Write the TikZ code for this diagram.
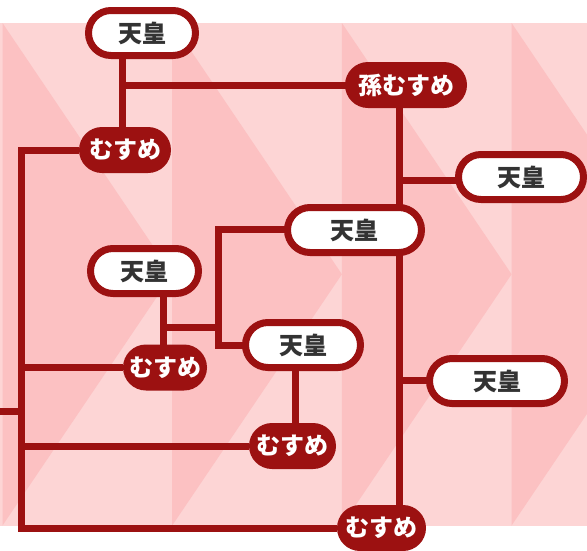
\documentclass[tikz,border=0pt]{standalone}
\usepackage{fontspec}
\newfontfamily\jp{Noto Sans CJK JP}
\pgfdeclarelayer{bglayer}
\pgfdeclarelayer{linelayer}
\pgfsetlayers{bglayer,linelayer,main}
\definecolor{dred}{RGB}{156,17,17}
\definecolor{pinkA}{RGB}{253,213,213}
\definecolor{pinkB}{RGB}{252,193,194}
\definecolor{txt}{RGB}{51,51,51}
\tikzset{
  jpfont/.style={font=\jp\bfseries\fontsize{24}{24}\selectfont},
  emp/.style={jpfont, draw=dred, line width=7pt, fill=white, text=txt,
    rounded corners=22.5pt, minimum height=45pt, inner sep=0pt},
  mus/.style={jpfont, fill=dred, text=white,
    rounded corners=23pt, minimum height=46pt, inner sep=0pt},
  conn/.style={draw=dred, line width=7pt},
}
\begin{document}
\begin{tikzpicture}[x=1pt,y=-1pt]
\useasboundingbox (0,0) rectangle (587,550);
% nodes
\node[emp, minimum width=107pt] (t1) at (142,33) {天皇};
\node[mus, minimum width=92pt] (m1) at (125,150) {むすめ};
\node[mus, minimum width=122pt] (gm) at (406,85) {孫むすめ};
\node[emp, minimum width=125pt] (t2) at (521,177) {天皇};
\node[emp, minimum width=134pt] (t3) at (354.5,230) {天皇};
\node[emp, minimum width=108pt] (t6) at (144.5,271) {天皇};
\node[mus, minimum width=84pt] (m2) at (165,367.5) {むすめ};
\node[emp, minimum width=115pt] (t4) at (303,345) {天皇};
\node[emp, minimum width=135pt] (t5) at (497,381) {天皇};
\node[mus, minimum width=87pt] (m3) at (292.5,446) {むすめ};
\node[mus, minimum width=89pt] (bm) at (381.5,528) {むすめ};
% junctions
\coordinate (cA) at (122.5,85.5);
\coordinate (cB) at (399.5,180);
\coordinate (cC) at (399.5,380.5);
\coordinate (cD) at (218.5,229);
\coordinate (cE) at (218.5,345);
\coordinate (cF) at (163.5,327);
\coordinate (cG) at (295,400);
\coordinate (cH) at (21,300);
\coordinate (cS) at (0,411);
% background
\begin{pgfonlayer}{bglayer}
\fill[pinkA] (0,23) rectangle (587,525.5);
\foreach \a in {2.5,172.2,341.9,511.6}
  \fill[pinkB] (\a,23) -- (\a+169.7,274.25) -- (\a,525.5) -- cycle;
\end{pgfonlayer}
% connectors
\begin{pgfonlayer}{linelayer}
\draw[conn] (cA |- t1) -- (cA |- m1);
\draw[conn] (cA) -- (cA -| gm);
\draw[conn] (cB |- gm) -- (cB |- bm);
\draw[conn] (cB) -- (cB -| t2);
\draw[conn] (cC) -- (cC -| t5);
\draw[conn] (cD -| t3) -- (cD) -- (cE) -- (cE -| t4);
\draw[conn] (cF |- t6) -- (cF |- m2);
\draw[conn] (cF) -- (cF -| cD);
\draw[conn] (cG |- t4) -- (cG |- m3);
\draw[conn] (m1) -- (m1 -| cH) -- (bm -| cH) -- (bm);
\draw[conn] (m2) -- (m2 -| cH);
\draw[conn] (m3) -- (m3 -| cH);
\draw[conn] (cS) -- (cS -| cH);
\end{pgfonlayer}
\end{tikzpicture}
\end{document}
